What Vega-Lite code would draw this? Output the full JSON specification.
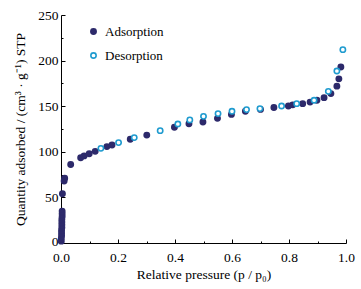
{
  "$schema": "https://vega.github.io/schema/vega-lite/v6.json",
  "width": 285,
  "height": 228,
  "autosize": {"type": "none"},
  "padding": {"left": 61, "top": 15, "right": 15, "bottom": 46},
  "background": "white",
  "config": {
    "view": {"stroke": null},
    "font": "Liberation Serif",
    "axis": {
      "domainColor": "black",
      "domainWidth": 1,
      "tickColor": "black",
      "tickWidth": 1,
      "labelFont": "Liberation Serif",
      "labelFontSize": 13.5,
      "labelColor": "black",
      "titleFont": "Liberation Serif",
      "titleFontSize": 13.5,
      "titleFontWeight": "normal",
      "titleColor": "black",
      "grid": false
    },
    "legend": {"labelFont": "Liberation Serif", "labelFontSize": 13, "labelColor": "black"}
  },
  "data": {
    "values": [
      {"p": 0.001, "q": 2, "type": "Adsorption"},
      {"p": 0.001, "q": 5, "type": "Adsorption"},
      {"p": 0.002, "q": 8, "type": "Adsorption"},
      {"p": 0.002, "q": 11, "type": "Adsorption"},
      {"p": 0.002, "q": 14, "type": "Adsorption"},
      {"p": 0.003, "q": 17, "type": "Adsorption"},
      {"p": 0.003, "q": 20, "type": "Adsorption"},
      {"p": 0.003, "q": 23, "type": "Adsorption"},
      {"p": 0.003, "q": 26, "type": "Adsorption"},
      {"p": 0.004, "q": 29, "type": "Adsorption"},
      {"p": 0.004, "q": 32, "type": "Adsorption"},
      {"p": 0.004, "q": 35, "type": "Adsorption"},
      {"p": 0.005, "q": 54, "type": "Adsorption"},
      {"p": 0.011, "q": 68, "type": "Adsorption"},
      {"p": 0.013, "q": 71, "type": "Adsorption"},
      {"p": 0.034, "q": 86, "type": "Adsorption"},
      {"p": 0.069, "q": 93.5, "type": "Adsorption"},
      {"p": 0.081, "q": 95.5, "type": "Adsorption"},
      {"p": 0.099, "q": 97.8, "type": "Adsorption"},
      {"p": 0.12, "q": 100.5, "type": "Adsorption"},
      {"p": 0.161, "q": 105.7, "type": "Adsorption"},
      {"p": 0.179, "q": 107.5, "type": "Adsorption"},
      {"p": 0.243, "q": 113.7, "type": "Adsorption"},
      {"p": 0.301, "q": 118.3, "type": "Adsorption"},
      {"p": 0.398, "q": 126.9, "type": "Adsorption"},
      {"p": 0.449, "q": 130.7, "type": "Adsorption"},
      {"p": 0.498, "q": 132.7, "type": "Adsorption"},
      {"p": 0.549, "q": 136.7, "type": "Adsorption"},
      {"p": 0.598, "q": 141, "type": "Adsorption"},
      {"p": 0.647, "q": 144.4, "type": "Adsorption"},
      {"p": 0.7, "q": 146.5, "type": "Adsorption"},
      {"p": 0.747, "q": 148.5, "type": "Adsorption"},
      {"p": 0.798, "q": 150.2, "type": "Adsorption"},
      {"p": 0.813, "q": 151.5, "type": "Adsorption"},
      {"p": 0.848, "q": 152.8, "type": "Adsorption"},
      {"p": 0.874, "q": 154.5, "type": "Adsorption"},
      {"p": 0.898, "q": 156.5, "type": "Adsorption"},
      {"p": 0.923, "q": 159.4, "type": "Adsorption"},
      {"p": 0.947, "q": 163.8, "type": "Adsorption"},
      {"p": 0.968, "q": 172, "type": "Adsorption"},
      {"p": 0.975, "q": 180, "type": "Adsorption"},
      {"p": 0.982, "q": 193, "type": "Adsorption"},
      {"p": 0.14, "q": 103.8, "type": "Desorption"},
      {"p": 0.202, "q": 110.1, "type": "Desorption"},
      {"p": 0.257, "q": 115.6, "type": "Desorption"},
      {"p": 0.348, "q": 123.2, "type": "Desorption"},
      {"p": 0.41, "q": 130.5, "type": "Desorption"},
      {"p": 0.452, "q": 135, "type": "Desorption"},
      {"p": 0.5, "q": 138.9, "type": "Desorption"},
      {"p": 0.551, "q": 141.9, "type": "Desorption"},
      {"p": 0.6, "q": 144.4, "type": "Desorption"},
      {"p": 0.651, "q": 146.3, "type": "Desorption"},
      {"p": 0.698, "q": 147.4, "type": "Desorption"},
      {"p": 0.774, "q": 150.2, "type": "Desorption"},
      {"p": 0.827, "q": 152.8, "type": "Desorption"},
      {"p": 0.888, "q": 156.5, "type": "Desorption"},
      {"p": 0.938, "q": 166.3, "type": "Desorption"},
      {"p": 0.968, "q": 188.6, "type": "Desorption"},
      {"p": 0.989, "q": 212, "type": "Desorption"}
    ]
  },
  "mark": {"type": "point", "shape": "circle", "size": 28, "strokeWidth": 1.6, "opacity": 1},
  "encoding": {
    "x": {
      "field": "p",
      "type": "quantitative",
      "scale": {"domain": [0, 1], "nice": false, "zero": false},
      "axis": {
        "title": "Relative pressure (p / p₀)",
        "values": [0, 0.1, 0.2, 0.3, 0.4, 0.5, 0.6, 0.7, 0.8, 0.9, 1.0],
        "labelExpr": "round(datum.value * 10) % 2 == 0 ? format(datum.value, '.1f') : ''",
        "tickSize": {"expr": "round(datum.value * 10) % 2 == 0 ? -4 : -2"},
        "labelPadding": 11,
        "titlePadding": 4,
        "labelFlush": false
      }
    },
    "y": {
      "field": "q",
      "type": "quantitative",
      "scale": {"domain": [0, 250], "nice": false},
      "axis": {
        "title": "Quantity adsorbed / (cm³ · g⁻¹) STP",
        "values": [0, 25, 50, 75, 100, 125, 150, 175, 200, 225, 250],
        "labelExpr": "datum.value % 50 == 0 ? format(datum.value, 'd') : ''",
        "tickSize": {"expr": "datum.value % 50 == 0 ? -4 : -2"},
        "labelOffset": {"expr": "datum.value == 0 ? -2 : 0"},
        "labelPadding": 7,
        "titlePadding": 10,
        "labelFlush": false
      }
    },
    "fill": {
      "field": "type",
      "type": "nominal",
      "scale": {"domain": ["Adsorption", "Desorption"], "range": ["#2d2a6b", "#ffffff"]},
      "legend": {"title": null, "orient": "none", "legendX": 26, "legendY": 10, "symbolSize": 28, "symbolStrokeWidth": 1.6, "rowPadding": 10, "labelOffset": 5}
    },
    "stroke": {
      "field": "type",
      "type": "nominal",
      "scale": {"domain": ["Adsorption", "Desorption"], "range": ["#2d2a6b", "#1f9bcf"]},
      "legend": {"title": null, "orient": "none", "legendX": 26, "legendY": 10, "symbolSize": 28, "symbolStrokeWidth": 1.6, "rowPadding": 10, "labelOffset": 5}
    }
  }
}
